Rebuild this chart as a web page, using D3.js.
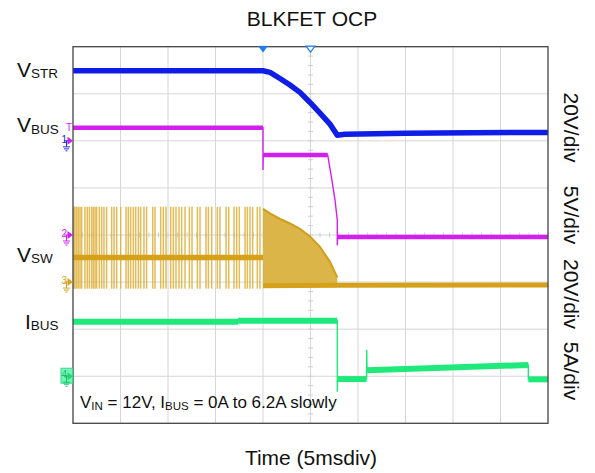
<!DOCTYPE html>
<html><head><meta charset="utf-8">
<script src="https://cdn.jsdelivr.net/npm/d3@7"></script>
<style>body{margin:0;background:#fff;} svg{display:block;font-family:"Liberation Sans",Arial,Helvetica,sans-serif;}</style>
</head><body><svg id="c" width="595" height="473"></svg>
<script>
// ---------- data ----------
const title = "BLKFET OCP";
const xLabel = "Time (5msdiv)";
const timeDomain = [0, 50];            // ms (5 ms/div, 10 div)
const divDomain = [-4, 4];             // vertical divisions
const channelIds = ["1", "2", "3", "4"];
const channelMain = ["V", "V", "V", "I"];
const channelSub = ["STR", "BUS", "SW", "BUS"];
const channelScales = [20, 5, 20, 5];
const channelUnits = ["V", "V", "V", "A"];
const channelGround = [2, 0, -1, -3];  // div from screen centre
const triggerTimes = [20, 25];
const noteParts = [["V", ""], ["IN", "sub"], [" = 12V, I", ""], ["BUS", "sub"], [" = 0A to 6.2A slowly", ""]];

// VSTR (V)
const vstrTime  = [0, 20.0, 20.74, 21.79, 22.84, 23.89, 24.95, 26.0, 27.05, 27.82, 28.6, 35, 42, 50];
const vstrValue = [29.8, 29.8, 29.1, 26.5, 23.7, 20.6, 16.3, 11.8, 7.1, 2.4, 2.8, 3.2, 3.4, 3.6];
// VBUS (V)
const vbusTime  = [0, 20.0, 20.0, 20.03, 26.81, 27.23, 27.58, 27.82, 27.82, 27.85, 50];
const vbusValue = [11.4, 11.4, 6.9, 8.5, 8.5, 6.0, 3.7, 1.6, -1.1, -0.2, -0.2];
// VSW (V): baseline before trigger, switching spikes, decaying envelope, after
const vswBaseTime  = [0, 20.0];
const vswBaseValue = [10.4, 10.4];
const vswSpikeTimes = [0.1, 0.21, 0.39, 0.56, 0.74, 0.91, 1.26, 1.5, 1.72, 1.96, 2.14, 2.32, 2.49, 2.77,
  3.02, 3.26, 3.54, 4.07, 4.32, 4.6, 5.02, 5.58, 5.82, 6.07, 6.35, 6.6, 6.88, 7.12, 7.47, 7.75,
  8.39, 8.63, 9.23, 9.51, 9.79, 10.28, 10.56, 10.84, 11.16, 11.44, 11.79, 12.25, 12.53, 13.09,
  13.37, 14.0, 14.25, 14.6, 15.19, 15.47, 16.11, 16.39, 16.95, 17.23, 17.51, 18.11, 18.35, 18.63,
  18.91, 19.4, 19.68];
const vswSpikeRange = [-2.8, 32];
const vswFillTime = [20.0, 20.74, 21.79, 22.84, 23.89, 24.95, 26.0, 27.05, 27.82];
const vswFillTop  = [31.1, 29.2, 26.8, 24.9, 22.6, 19.4, 15.0, 8.6, 2.0];
const vswFillBottom = -2.2;
const vswAfterTime  = [20.0, 27.82, 50];
const vswAfterValue = [-1.6, -1.3, -1.2];
// IBUS (A)
const ibusTime  = [0, 17.37, 17.37, 27.82, 27.82, 27.85, 30.9, 30.92, 30.95, 47.93, 47.93, 50];
const ibusValue = [5.79, 5.79, 5.9, 5.9, -1.65, -0.3, -0.3, 2.78, 0.63, 1.19, -0.33, -0.33];

// ---------- layout ----------
const svg = d3.select("#c");
const L = 73, R = 548, T = 46.7, B = 423.3;
const x = d3.scaleLinear().domain(timeDomain).range([L, R]);
const y = d3.scaleLinear().domain(divDomain).range([B, T]);
const yCh = (c, v) => y(channelGround[c] + v / channelScales[c]);
const colors = ["#0f1ee6", "#d21ff0", "#d8a41c", "#1fe97a"];

// grid
const grid = svg.append("g");
const xDivs = d3.range(timeDomain[0], timeDomain[1] + 0.01, 5);
const yDivs = d3.range(divDomain[0], divDomain[1] + 0.01, 1);
grid.selectAll("line.v").data(xDivs.slice(1, -1)).join("line")
  .attr("x1", d => x(d)).attr("x2", d => x(d)).attr("y1", T).attr("y2", B)
  .attr("stroke", "#d6d6d6").attr("stroke-width", 1);
grid.selectAll("line.h").data(yDivs.slice(1, -1)).join("line")
  .attr("y1", d => y(d)).attr("y2", d => y(d)).attr("x1", L).attr("x2", R)
  .attr("stroke", "#d6d6d6").attr("stroke-width", 1);
// minor ticks on centre axes
const xc = x(25), yc = y(0);
grid.selectAll("line.ty").data(d3.range(-4, 4.01, 0.2)).join("line")
  .attr("x1", xc - 2.5).attr("x2", xc + 2.5).attr("y1", d => y(d)).attr("y2", d => y(d))
  .attr("stroke", "#cfcfcf").attr("stroke-width", 1);
grid.selectAll("line.tx").data(d3.range(0, 50.01, 1)).join("line")
  .attr("y1", yc - 2.5).attr("y2", yc + 2.5).attr("x1", d => x(d)).attr("x2", d => x(d))
  .attr("stroke", "#cfcfcf").attr("stroke-width", 1);

const traces = svg.append("g");
function drawTrace(c, times, values, thick, color) {
  const pts = times.map((t, i) => [x(t), yCh(c, values[i])]);
  traces.append("path").attr("d", d3.line()(pts)).attr("fill", "none")
    .attr("stroke", color || colors[c]).attr("stroke-width", 1.4);
  const runs = []; let run = [pts[0]];
  for (let i = 1; i < pts.length; i++) {
    const dx = Math.abs(pts[i][0] - pts[i - 1][0]), dy = Math.abs(pts[i][1] - pts[i - 1][1]);
    if (dx > 0 && dy / dx < 3) run.push(pts[i]);
    else { if (run.length > 1) runs.push(run); run = [pts[i]]; }
  }
  if (run.length > 1) runs.push(run);
  runs.forEach(r => traces.append("path").attr("d", d3.line()(r)).attr("fill", "none")
    .attr("stroke", color || colors[c]).attr("stroke-width", thick)
    .attr("stroke-linejoin", "round").attr("stroke-linecap", "butt"));
}

// VSW
traces.selectAll("line.sp").data(vswSpikeTimes).join("line")
  .attr("x1", d => x(d)).attr("x2", d => x(d))
  .attr("y1", yCh(2, vswSpikeRange[0])).attr("y2", yCh(2, vswSpikeRange[1]))
  .attr("stroke", "#e0b13a").attr("stroke-width", 1.5).attr("opacity", 0.85);
drawTrace(2, vswBaseTime, vswBaseValue, 5.5, "#d6a11a");
traces.append("path")
  .attr("d", d3.area().x((d, i) => x(vswFillTime[i])).y0(yCh(2, vswFillBottom)).y1((d, i) => yCh(2, vswFillTop[i]))(vswFillTime))
  .attr("fill", "#dcb548");
traces.append("path")
  .attr("d", d3.line().x((d, i) => x(vswFillTime[i])).y((d, i) => yCh(2, vswFillTop[i]))(vswFillTime))
  .attr("fill", "none").attr("stroke", "#d09e1a").attr("stroke-width", 2);
drawTrace(2, vswAfterTime, vswAfterValue, 5, "#d6a11a");

drawTrace(3, ibusTime, ibusValue, 6);
drawTrace(1, vbusTime, vbusValue, 4.5);
drawTrace(0, vstrTime, vstrValue, 5.5);

// frame
svg.append("rect").attr("x", L).attr("y", T).attr("width", R - L).attr("height", B - T)
  .attr("fill", "none").attr("stroke", "#444").attr("stroke-width", 1.3);

// trigger markers
triggerTimes.forEach((t, i) => {
  const xt = x(t);
  svg.append("path").attr("d", `M${xt - 4.5},${T - 0.5} L${xt + 4.5},${T - 0.5} L${xt},${T + 5.5} Z`)
    .attr("fill", i === 0 ? "#1e7ff0" : "#fff").attr("stroke", "#1e7ff0").attr("stroke-width", i === 0 ? 0.5 : 1.2);
});

// channel markers
function groundMarker(c, digitColor, arrowColor) {
  const ym = y(channelGround[c]);
  const g = svg.append("g");
  g.append("text").attr("x", 61.5).attr("y", ym + 2).attr("font-size", 10).attr("fill", digitColor).text(channelIds[c]);
  g.append("path").attr("d", `M${L - 5.5},${ym - 4} L${L},${ym} L${L - 5.5},${ym + 4} Z`).attr("fill", arrowColor);
  g.append("path").attr("d", `M${L - 9},${ym} L${L - 5},${ym} M${L - 6.5},${ym} L${L - 6.5},${ym + 6} M${L - 10},${ym + 6} L${L - 3},${ym + 6} M${L - 9},${ym + 8} L${L - 4},${ym + 8} M${L - 7.5},${ym + 10} L${L - 5.5},${ym + 10}`)
    .attr("stroke", digitColor).attr("stroke-width", 1).attr("fill", "none");
}
// channel 4 highlight box
svg.append("rect").attr("x", 61).attr("y", y(channelGround[3]) - 8).attr("width", 11.5).attr("height", 15)
  .attr("fill", "#74f2b8").attr("stroke", "#2fe08a").attr("stroke-width", 1);
groundMarker(0, "#2030e8", colors[1]);
groundMarker(1, colors[1], colors[1]);
groundMarker(2, colors[2], colors[2]);
groundMarker(3, "#1fbf66", "#1fd974");
svg.append("text").attr("x", 66).attr("y", 130.5).attr("font-size", 10).attr("fill", colors[1]).text("T");

// left labels
const leftPos = [[17, 76.7], [17, 132], [17, 261.7], [25, 328.5]];
channelMain.forEach((m, i) => {
  const t = svg.append("text").attr("x", leftPos[i][0]).attr("y", leftPos[i][1]).attr("font-size", 21).attr("fill", "#111");
  t.append("tspan").text(m);
  t.append("tspan").attr("font-size", 13.5).attr("dy", 1.5).text(channelSub[i]);
});

// right labels (rotated)
const rightCentres = [127.5, 215, 294, 371];
channelScales.forEach((s, i) => {
  svg.append("text").attr("transform", `translate(563.5,${rightCentres[i]}) rotate(90)`)
    .attr("text-anchor", "middle").attr("font-size", 21).attr("fill", "#111")
    .text(`${s}${channelUnits[i]}/div`);
});

// title & axis label
svg.append("text").attr("x", 312).attr("y", 26).attr("text-anchor", "middle").attr("font-size", 21).attr("fill", "#111").text(title);
svg.append("text").attr("x", 311).attr("y", 465).attr("text-anchor", "middle").attr("font-size", 21).attr("fill", "#111").text(xLabel);

// note
const note = svg.append("text").attr("x", 80).attr("y", 410).attr("font-size", 17).attr("fill", "#111");
noteParts.forEach(([s, k]) => {
  if (k === "sub") note.append("tspan").attr("font-size", 11.5).attr("dy", 2).text(s);
  else note.append("tspan").attr("dy", note.selectAll("tspan").size() ? -2 : 0).text(s);
});
</script></body></html>
